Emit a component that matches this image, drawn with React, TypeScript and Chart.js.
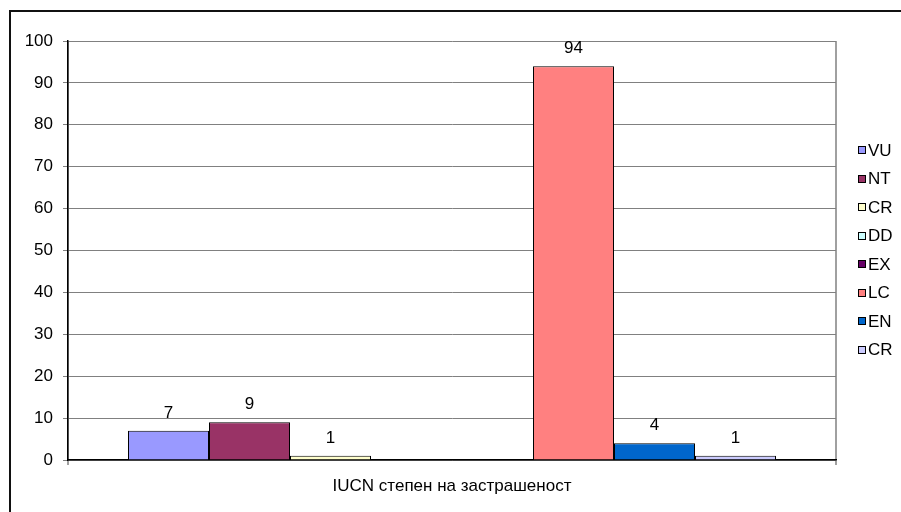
import React, { useEffect, useRef } from "react";
import { Chart, registerables } from "chart.js";

Chart.register(...registerables);

const categories = ["IUCN степен на застрашеност"];
const seriesLabels = ["VU", "NT", "CR", "DD", "EX", "LC", "EN", "CR"];
const seriesValues = [7, 9, 1, 0, 0, 94, 4, 1];
const seriesColors = ["#9999FF", "#993366", "#FFFFCC", "#CCFFFF", "#660066", "#FF8080", "#0066CC", "#CCCCFF"];
const yTicks = [0, 10, 20, 30, 40, 50, 60, 70, 80, 90, 100];

const FONT = "'Liberation Sans', Arial, sans-serif";
const FS = 17;

const framePlugin = {
  id: "frame",
  beforeDraw(chart: any) {
    const ctx = chart.ctx;
    ctx.save();
    ctx.fillStyle = "#fff";
    ctx.fillRect(0, 0, chart.width, chart.height);
    ctx.fillStyle = "#111";
    ctx.fillRect(9, 10, chart.width, 2);
    ctx.fillRect(9, 10, 2, chart.height);
    ctx.restore();
  },
};

const labelsPlugin = {
  id: "valueLabels",
  afterDatasetsDraw(chart: any) {
    const ctx = chart.ctx;
    ctx.save();
    ctx.font = `${FS}px ${FONT}`;
    ctx.fillStyle = "#000";
    ctx.textAlign = "center";
    ctx.textBaseline = "alphabetic";
    chart.data.datasets.forEach((ds: any, i: number) => {
      const meta = chart.getDatasetMeta(i);
      meta.data.forEach((el: any, j: number) => {
        const v = ds.data[j];
        if (!v) return;
        ctx.fillText(String(v), el.x, el.y - 13);
      });
    });
    ctx.restore();
  },
};

const legendPlugin = {
  id: "customLegend",
  afterDraw(chart: any) {
    const ctx = chart.ctx;
    ctx.save();
    ctx.font = `${FS}px ${FONT}`;
    ctx.textBaseline = "middle";
    ctx.textAlign = "left";
    chart.data.datasets.forEach((ds: any, i: number) => {
      const cy = 150 + i * 28.5;
      ctx.fillStyle = ds.backgroundColor;
      ctx.fillRect(858, Math.round(cy) - 4, 8, 8);
      ctx.strokeStyle = "#000";
      ctx.lineWidth = 1;
      ctx.strokeRect(858.5, Math.round(cy) - 3.5, 7, 7);
      ctx.fillStyle = "#000";
      ctx.fillText(ds.label, 868, cy + 1);
    });
    ctx.restore();
  },
};

export default function App() {
  const ref = useRef<HTMLCanvasElement>(null);
  useEffect(() => {
    if (!ref.current) return;
    const chart = new Chart(ref.current, {
      type: "bar",
      data: {
        labels: categories,
        datasets: seriesLabels.map((l, i) => ({
          label: l,
          data: [seriesValues[i]],
          backgroundColor: seriesColors[i],
          borderColor: "#000",
          borderWidth: 1,
          categoryPercentage: 0.84375,
          barPercentage: 1,
        })),
      },
      options: {
        responsive: false,
        animation: false,
        devicePixelRatio: 1,
        layout: { padding: { left: 8, top: 41, right: 65, bottom: 12 } },
        plugins: { legend: { display: false }, tooltip: { enabled: false } },
        scales: {
          x: {
            afterFit: (s: any) => { s.height = 40; },
            grid: { display: true, drawOnChartArea: true, color: "#a0a0a0", lineWidth: 2, tickLength: 5, offset: true },
            border: { display: true, color: "#000", width: 1.5 },
            ticks: { color: "#000", font: { family: FONT, size: FS }, padding: 11 },
          },
          y: {
            min: 0,
            max: 100,
            afterFit: (s: any) => { s.width = 60; },
            afterBuildTicks: (s: any) => { s.ticks = yTicks.map((v) => ({ value: v })); },
            grid: { color: "#808080", lineWidth: 1, tickLength: 5 },
            border: { display: true, color: "#000", width: 1.5 },
            ticks: { color: "#000", font: { family: FONT, size: FS }, padding: 10 },
          },
        },
      },
      plugins: [framePlugin, labelsPlugin, legendPlugin],
    });
    return () => chart.destroy();
  }, []);
  return (
    <div style={{ position: "fixed", left: 0, top: 0, width: 901, height: 512, overflow: "hidden" }}>
      <canvas ref={ref} width={901} height={512} style={{ display: "block" }} />
    </div>
  );
}
